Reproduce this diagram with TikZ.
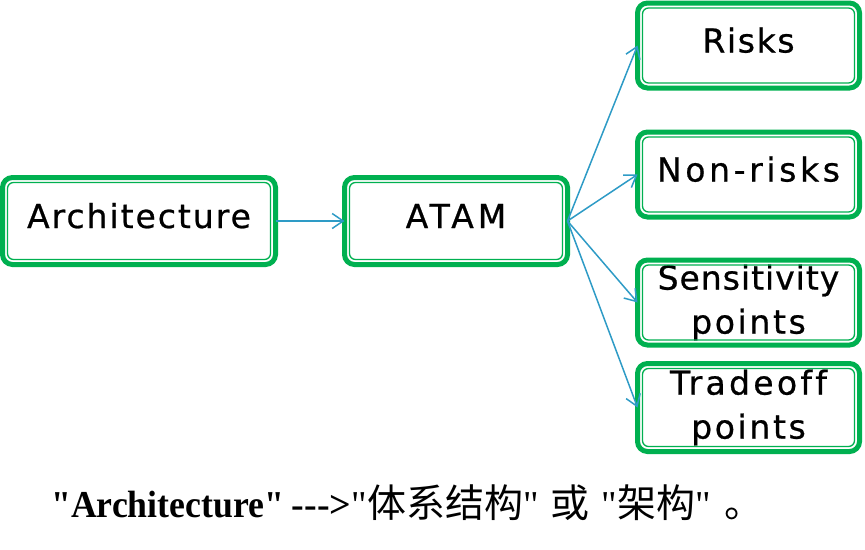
\documentclass[tikz,border=0pt]{standalone}
\usepackage{fontspec}
\setmainfont{DejaVu Sans}[FakeBold=0.7]
\newfontfamily\tnrfont{Liberation Serif}
\newfontfamily\tnrnarrow{Liberation Serif}[FakeStretch=0.94]
\newfontfamily\cjkfont{Noto Sans CJK SC}
\usetikzlibrary{arrows.meta}
\definecolor{boxgreen}{RGB}{0,176,80}
\definecolor{arrowblue}{RGB}{46,155,198}
\tikzset{
  box/.style={draw=boxgreen, line width=5pt, rounded corners=10pt,
    inner sep=0pt, outer sep=0pt, fill=white,
    font=\fontsize{33}{44}\selectfont, align=center},
  onel/.style={box, text height=24pt, text depth=10pt},
  innerline/.style={draw=boxgreen, line width=1.3pt, rounded corners=6pt},
  conn/.style={draw=arrowblue, line width=1.5pt,
    -{Straight Barb[length=11pt,width=15pt,line width=1.5pt]}},
}
\newcommand{\lsp}[2]{{\addfontfeature{LetterSpace=#1}#2}}
\newcommand{\cjkpart}[1]{{\cjkfont\fontsize{39}{40}\selectfont #1}}
\begin{document}
\begin{tikzpicture}[x=1pt,y=-1pt]
\useasboundingbox (0,0) rectangle (865,549);
\node[onel, minimum width=273pt, minimum height=87pt] (arch) at (139,221) {\lsp{6}{Architecture}};
\node[onel, minimum width=223pt, minimum height=87pt] (atam) at (456,221) {\lsp{12}{ATAM}};
\node[onel, minimum width=222pt, minimum height=85pt] (risks) at (748.5,45.5) {\lsp{5}{Risks}};
\node[onel, minimum width=222pt, minimum height=85pt] (nonrisks) at (748.5,174.5) {\lsp{11}{Non-risks}};
\node[box, minimum width=222pt, minimum height=85pt] (sens) at (748.5,302.5) {\lsp{3}{Sensitivity}\\\lsp{8}{points}};
\node[box, minimum width=222pt, minimum height=88pt] (trade) at (748.5,407.5) {{\addfontfeature{LetterSpace=10,Ligatures=NoCommon}Tradeoff}\\\lsp{8}{points}};
\foreach \n in {arch,atam,risks,nonrisks,sens,trade}
  \draw[innerline] ([shift={(5pt,-5pt)}]\n.north west) rectangle ([shift={(-5pt,5pt)}]\n.south east);
\draw[conn] (arch.east) -- (atam.west);
\draw[conn] (atam.east) -- (risks.west);
\draw[conn] (atam.east) -- (nonrisks.west);
\draw[conn] (atam.east) -- (sens.west);
\draw[conn] (atam.east) -- (trade.west);
\node[anchor=base west, inner sep=0pt, font=\fontsize{38}{40}\selectfont] (note) at (51,517)
  {{\tnrnarrow\bfseries "Architecture"}\hspace{8pt}{\tnrfont\bfseries -{}-{}->}{\tnrfont"}\cjkpart{体系结构}{\tnrfont"}\hspace{12pt}\cjkpart{或}\hspace{12pt}{\tnrfont"}\cjkpart{架构}{\tnrfont"}\hspace{14pt}\cjkpart{。}};
\end{tikzpicture}
\end{document}
